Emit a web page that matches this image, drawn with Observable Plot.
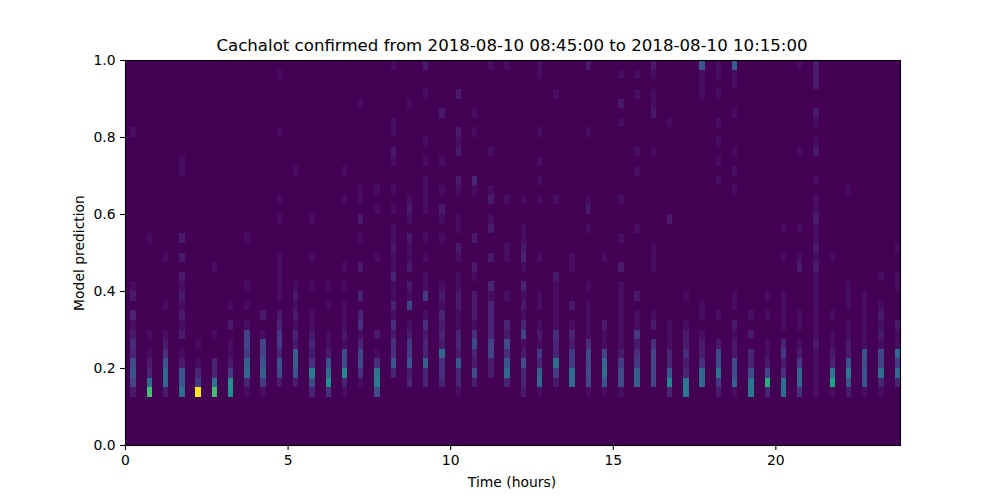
<!DOCTYPE html>
<html>
<head>
<meta charset="utf-8">
<style>
html,body{margin:0;padding:0;background:#fff}
svg{display:block}
</style>
<script src="https://cdn.jsdelivr.net/npm/d3@7"></script>
<script src="https://cdn.jsdelivr.net/npm/@observablehq/plot@0.6"></script>
</head>
<body>
<div id="chart"></div>
<script>
const title = "Cachalot confirmed from 2018-08-10 08:45:00 to 2018-08-10 10:15:00";
const xLabel = "Time (hours)";
const yLabel = "Model prediction";
const xTicks = [0, 5, 10, 15, 20];
const yTicks = [0, 0.2, 0.4, 0.6, 0.8, 1];
const timeBinHours = 1 / 6;
const timeBinCount = 143;
const scoreBinWidth = 0.025;
const maxCount = 30;
// One entry per recording (every third time bin): prediction-bin index -> count
const recordings = [
 {5:2,6:6,7:8,8:7,9:3,10:4,11:2,12:1,13:3,15:2,16:1,32:1},
 {5:21,6:11,7:3,8:2,9:1,11:1,21:1},
 {5:2,6:10,7:10,8:8,9:4,10:2,11:1,14:1,19:1},
 {5:11,6:8,7:8,8:2,9:1,11:2,12:1,13:2,14:1,15:2,16:1,17:2,19:2,21:2,28:1,29:1},
 {5:30,6:5,7:3,8:1,10:1},
 {5:21,6:12,7:3,8:3,11:1,18:1},
 {5:15,6:15,7:5,8:2,9:1,10:1,12:2,14:1},
 {5:1,6:3,7:10,8:9,9:5,10:6,11:6,12:1,14:1,16:1,21:1},
 {5:1,6:5,7:9,8:8,9:6,10:6,11:1,13:2},
 {6:2,7:7,8:8,9:3,10:5,11:5,12:3,13:2,15:1,16:1,17:1,18:1,19:1,23:1,25:1,32:1,38:1},
 {6:2,7:8,8:9,9:9,10:2,11:3,12:1,13:2,14:1,15:2,16:1,28:1},
 {5:3,6:7,7:13,8:4,9:2,10:3,11:2,12:1,13:1,16:1,19:1,23:1},
 {5:4,6:15,7:11,8:8,9:2,10:1,11:1,14:1,16:1},
 {5:1,6:3,7:14,8:7,9:7,10:1,11:2,12:1,13:1,14:1,16:1,18:1,25:1,28:1},
 {6:1,7:4,8:7,9:6,10:3,11:1,12:4,13:3,15:3,18:2,21:1,23:2,25:1,26:1,35:1},
 {5:7,6:13,7:12,8:4,9:1,11:2,19:1,24:1,26:1},
 {7:3,8:8,9:4,10:4,11:2,12:4,13:1,14:3,15:1,16:1,17:3,18:1,19:1,20:2,21:1,22:1,24:1,26:1,29:1,30:2,32:1,33:1,39:1},
 {6:3,7:2,8:8,9:5,10:5,11:2,12:1,14:6,15:1,16:2,18:2,19:1,20:1,21:2,23:1,24:2,25:1,35:1},
 {6:3,7:3,8:9,9:3,10:3,11:2,12:4,13:1,15:5,16:1,17:1,19:1,21:1,24:1,25:1,26:1,27:1,29:1,31:1,36:1,39:2},
 {6:3,7:4,8:4,9:10,10:2,11:3,12:2,13:3,14:1,15:2,16:1,21:1,23:1,24:2,26:1,29:1,34:2},
 {5:1,6:3,7:3,8:8,9:2,10:3,11:3,12:1,13:1,14:2,15:2,16:1,17:1,19:1,20:2,22:1,23:1,26:1,27:2,30:2,31:1,32:2,36:2},
 {6:2,7:7,8:2,9:3,10:7,11:4,12:1,13:2,14:2,15:2,17:1,18:2,21:2,26:1,27:3,32:1,34:1},
 {7:2,8:2,9:6,10:6,11:3,12:3,13:3,14:3,15:1,16:3,19:2,22:2,23:1,25:2,26:1,30:1,39:1},
 {6:3,7:10,8:8,9:4,10:7,11:2,12:3,15:1,19:1,20:1,25:1,39:1},
 {5:2,6:3,7:3,8:7,9:2,10:1,11:6,12:3,13:1,14:2,15:1,16:3,18:1,19:3,20:2,21:1,22:1,25:1},
 {5:1,6:10,7:9,8:3,9:5,10:1,11:2,12:1,14:1,15:1,19:1,25:1,27:1,29:1,32:1,38:1,39:1},
 {6:2,7:5,8:11,9:3,10:3,11:4,12:1,13:1,14:1,15:1,16:1,17:2,25:1,36:1},
 {6:10,7:11,8:5,9:5,10:2,11:3,12:1,14:2,18:1,19:1},
 {5:1,6:6,7:7,8:6,9:7,10:4,11:1,12:1,13:1,14:1,16:1,22:1,24:2,25:1,32:1,39:2},
 {5:1,6:8,7:11,8:10,9:6,10:1,11:1,12:2,19:1},
 {5:1,6:7,7:7,8:5,9:2,10:1,11:1,12:1,13:1,14:1,15:1,16:1,18:2,21:1,25:1,33:1,35:2,38:1},
 {6:9,7:9,8:5,9:4,10:2,11:5,12:1,13:1,15:2,22:1,28:1,30:1,36:1,38:1},
 {6:6,7:6,8:6,9:6,10:4,12:2,13:1,18:1,19:1,20:1,30:1,34:2,35:1,36:1,38:1,39:2},
 {5:3,6:14,7:8,8:3,9:3,10:1,11:1,12:1,23:2,33:1},
 {5:12,6:12,7:3,8:2,9:4,10:2,11:2,12:1,15:1},
 {6:10,7:10,8:4,9:2,10:2,11:1,13:1,14:1,36:1,37:1,38:1,39:8},
 {5:2,6:5,7:12,8:7,9:7,10:2,13:1,27:1,29:1,31:1,33:1,36:1,38:1,39:1},
 {5:1,6:9,7:7,8:7,9:2,10:2,11:1,12:2,14:1,15:1,26:1,28:1,30:1,34:1,37:1,38:1,39:9},
 {5:12,6:12,7:7,8:3,9:3,11:2,13:1},
 {5:3,6:19,7:6,8:2,9:1,10:1,13:1,15:1},
 {5:11,6:11,7:4,8:2,9:5,10:3,12:1,13:1,14:1,15:1,19:1,22:1},
 {5:4,6:10,7:10,8:5,9:2,10:1,12:1,13:1,18:2,19:1,22:1,30:1,39:1},
 {5:1,6:1,7:1,8:1,9:1,10:2,11:1,12:1,13:1,14:1,15:1,16:1,17:1,18:2,19:1,20:2,21:1,22:1,23:2,24:1,25:1,27:1,30:2,31:1,33:1,34:2,37:2,38:2,39:2},
 {5:1,6:17,7:12,8:3,9:2,10:1,11:1,13:1,19:1},
 {5:2,6:8,7:12,8:8,9:2,10:2,11:1,12:1,14:1,15:1,16:1,26:1},
 {5:1,6:8,7:8,8:7,9:8,10:1,11:1,12:1,13:1,14:1,15:1},
 {5:1,6:3,7:11,8:6,9:6,10:1,11:2,12:1,13:2,14:1,17:1},
 {6:3,7:10,8:5,9:10,10:1,11:1,12:2,16:1,17:1,20:1}
];

const cells = recordings.flatMap((column, k) => {
  const timeBin = 1 + 3 * k;
  return Object.entries(column).map(([bin, count]) => ({
    t0: timeBin * timeBinHours,
    t1: (timeBin + 1) * timeBinHours,
    p0: +bin * scoreBinWidth,
    p1: (+bin + 1) * scoreBinWidth,
    count
  }));
});

const font = "'DejaVu Sans', sans-serif";
const chart = Plot.plot({
  width: 1000,
  height: 500,
  marginLeft: 125,
  marginRight: 100,
  marginTop: 60,
  marginBottom: 55,
  style: {fontFamily: font, fontSize: "13.9px", color: "#000", background: "#fff", overflow: "visible"},
  x: {domain: [0, timeBinCount * timeBinHours]},
  y: {domain: [0, 1]},
  color: {type: "linear", scheme: "viridis", domain: [0, maxCount]},
  marks: [
    Plot.frame({fill: "#440154"}),
    Plot.rect(cells, {
      x1: "t0", x2: "t1", y1: "p0", y2: "p1",
      fill: "count", inset: 0, shapeRendering: "crispEdges"
    }),
    Plot.frame({stroke: "#000", strokeWidth: 1.1}),
    Plot.axisX({
      ticks: xTicks, tickSize: 5, tickPadding: 5, tickFormat: d3.format("d"),
      stroke: "#000", strokeOpacity: 1, strokeWidth: 1.1,
      label: null
    }),
    Plot.axisY({
      ticks: yTicks, tickSize: 5, tickPadding: 5, tickFormat: d3.format(".1f"),
      stroke: "#000", strokeOpacity: 1, strokeWidth: 1.1,
      label: yLabel, labelArrow: "none", labelAnchor: "center", labelOffset: 51
    }),
    Plot.text([xLabel], {
      frameAnchor: "bottom", dy: 41, dx: -1, fontSize: 13.9, fill: "#000",
      lineAnchor: "bottom", text: d => d
    }),
    Plot.text([title], {
      frameAnchor: "top", dy: -10, dx: -1, fontSize: 16.62, fill: "#000",
      lineAnchor: "bottom", text: d => d
    })
  ]
});
document.getElementById("chart").append(chart);
</script>
</body>
</html>
